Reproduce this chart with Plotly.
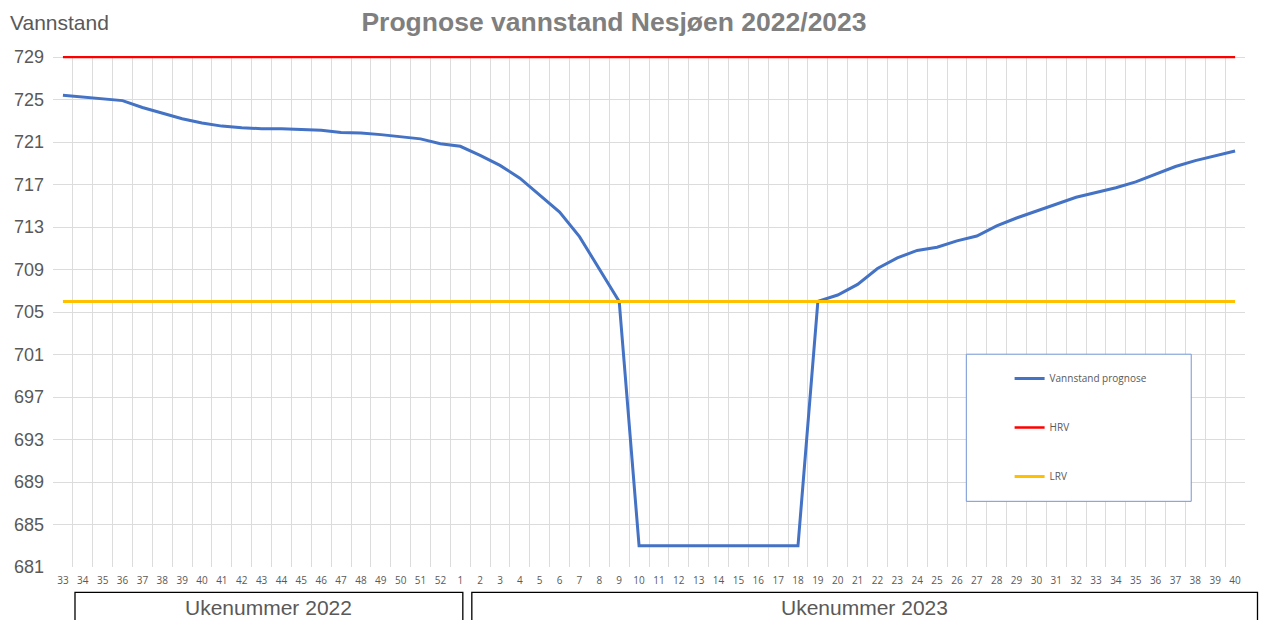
import plotly.graph_objects as go

# ---- data ----
week_labels = [33, 34, 35, 36, 37, 38, 39, 40, 41, 42, 43, 44, 45, 46, 47, 48, 49, 50, 51, 52,
               1, 2, 3, 4, 5, 6, 7, 8, 9, 10, 11, 12, 13, 14, 15, 16, 17, 18, 19, 20,
               21, 22, 23, 24, 25, 26, 27, 28, 29, 30, 31, 32, 33, 34, 35, 36, 37, 38, 39, 40]
vannstand_prognose = [725.4, 725.25, 725.1, 724.9, 724.25, 723.7, 723.2, 722.8, 722.5, 722.35,
                      722.25, 722.25, 722.15, 722.1, 721.9, 721.85, 721.7, 721.5, 721.3, 720.85,
                      720.6, 719.75, 718.8, 717.6, 716.0, 714.4, 712.1, 709.0, 706.0, 683.0,
                      683.0, 683.0, 683.0, 683.0, 683.0, 683.0, 683.0, 683.0, 706.0, 706.6,
                      707.6, 709.1, 710.1, 710.8, 711.1, 711.7, 712.15, 713.1, 713.85, 714.5,
                      715.15, 715.8, 716.25, 716.7, 717.25, 718.0, 718.7, 719.25, 719.7, 720.15]
HRV = 729
LRV = 706
y_ticks = [681, 685, 689, 693, 697, 701, 705, 709, 713, 717, 721, 725, 729]
title_text = "Prognose vannstand Nesjøen 2022/2023"
y_title = "Vannstand"
group_labels = ["Ukenummer 2022", "Ukenummer 2023"]

n = len(week_labels)
xpos = list(range(n))
hrv_series = [HRV] * n
lrv_series = [LRV] * n

W, H = 1262, 620
L, R, T, B = 53, 16.5, 55.5, 52.5
pw, ph = W - L - R, H - T - B

def px(x):
    return (x - L) / pw

def py(y):
    return (H - B - y) / ph

gray = "#595959"
font_main = "Liberation Sans, Arial, sans-serif"
font_small = "Open Sans, sans-serif"

fig = go.Figure()
fig.add_trace(go.Scatter(x=xpos, y=vannstand_prognose, mode="lines", name="Vannstand prognose",
                         line=dict(color="#4472C4", width=3), legendgroup="a"))
fig.add_trace(go.Scatter(x=xpos, y=hrv_series, mode="lines", name="HRV",
                         line=dict(color="#FF0000", width=2.5), legendgroup="b"))
fig.add_trace(go.Scatter(x=xpos, y=lrv_series, mode="lines", name="LRV",
                         line=dict(color="#FFC000", width=3), legendgroup="c"))

fig.update_layout(
    width=W, height=H,
    margin=dict(l=L, r=R, t=T, b=B),
    paper_bgcolor="white", plot_bgcolor="white",
    title=dict(text=f"<b>{title_text}</b>", x=614 / W, xanchor="center", xref="container",
               y=1 - 22 / H, yanchor="middle", yref="container",
               font=dict(family=font_main, size=26.5, color="#7F7F7F")),
    showlegend=True,
    legend=dict(x=px(1010), y=py(364), xanchor="left", yanchor="top",
                bgcolor="rgba(0,0,0,0)", borderwidth=0, tracegroupgap=30,
                font=dict(family=font_small, size=10, color=gray)),
    xaxis=dict(range=[-0.5, n - 0.5], tickmode="array", tickvals=xpos,
               ticktext=[str(w) for w in week_labels], showgrid=False, zeroline=False,
               showline=False, ticks="", ticklabelstandoff=6,
               tickfont=dict(family=font_small, size=10, color=gray),
               minor=dict(tickmode="array", tickvals=[x - 0.5 for x in xpos] + [n - 0.5],
                          showgrid=True, gridcolor="#DCDCDC", gridwidth=1, ticks="")),
    yaxis=dict(range=[681, 729.1], tickmode="array", tickvals=y_ticks,
               showgrid=True, gridcolor="#DCDCDC", gridwidth=1, zeroline=False,
               showline=False, ticks="", ticklabelstandoff=8,
               tickfont=dict(family=font_main, size=18, color=gray)),
)

shapes = [
    dict(type="rect", xref="paper", yref="paper", x0=px(966.7), x1=px(1191.7),
         y0=py(501.7), y1=py(354.3), fillcolor="white",
         line=dict(color="#7496D6", width=1), layer="above"),
    dict(type="rect", xref="paper", yref="paper", x0=px(75), x1=px(463),
         y0=py(630), y1=py(593), line=dict(color="black", width=1.3), fillcolor="rgba(0,0,0,0)"),
    dict(type="rect", xref="paper", yref="paper", x0=px(472), x1=px(1258),
         y0=py(630), y1=py(593), line=dict(color="black", width=1.3), fillcolor="rgba(0,0,0,0)"),
]
fig.update_layout(shapes=shapes)

annotations = [
    dict(text=y_title, xref="paper", yref="paper", x=px(8), y=py(22), xanchor="left",
         yanchor="middle", showarrow=False, font=dict(family=font_main, size=21, color=gray)),
    dict(text=group_labels[0], xref="paper", yref="paper", x=px(269), y=py(608), xanchor="center",
         yanchor="middle", showarrow=False, font=dict(family=font_main, size=21, color=gray)),
    dict(text=group_labels[1], xref="paper", yref="paper", x=px(865), y=py(608), xanchor="center",
         yanchor="middle", showarrow=False, font=dict(family=font_main, size=21, color=gray)),
]
fig.update_layout(annotations=annotations)

fig.write_html("out.html", config={"displayModeBar": False},
               post_script="document.body.style.margin='0';document.body.style.padding='0';")
